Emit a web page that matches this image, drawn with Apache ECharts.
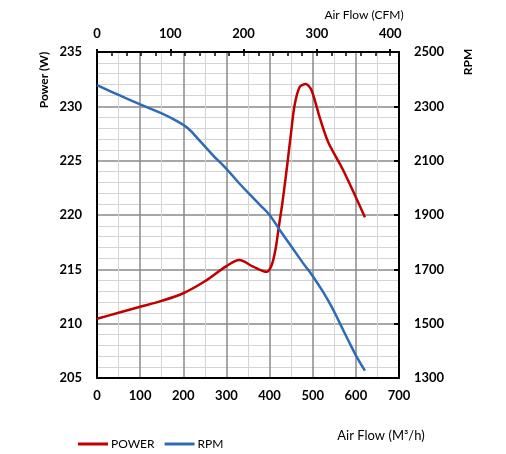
<!DOCTYPE html>
<html><head><meta charset="utf-8">
<script src="https://cdn.jsdelivr.net/npm/echarts@6/dist/echarts.min.js"></script>
<style>html,body{margin:0;padding:0;background:#fff}#c{width:506px;height:454px}</style>
</head><body><div id="c"></div>
<script>
// Data
const powerFlow = [0, 50, 100, 150, 200, 250, 300, 330, 362, 393, 405, 414, 421, 430, 440, 449, 458, 470, 484, 497, 516, 536, 571, 621];
const powerW    = [210.45, 211.0, 211.55, 212.1, 212.8, 213.9, 215.3, 215.85, 215.25, 214.77, 215.4, 216.9, 218.8, 221.2, 224.3, 227.3, 230.1, 231.8, 232.05, 231.5, 229.0, 226.7, 224.1, 219.8];
const rpmFlow   = [0, 50, 100, 150, 180, 210, 240, 270, 300, 330, 377, 400, 424, 451, 478, 501, 524, 544, 563, 582, 602, 621];
const rpmValues = [2378, 2342, 2307, 2274, 2250, 2220, 2170, 2118, 2070, 2016, 1938, 1900, 1844, 1783, 1722, 1673, 1617, 1562, 1501, 1440, 1378, 1327];
const seriesNames = ['POWER', 'RPM'];
const flowMax = 700;          // m3/h
const cfmMax = 700 / 1.699;   // same span in CFM

const F = 'Lato, "Open Sans", sans-serif';
const pair = (xs, ys) => xs.map((x, i) => [x, ys[i]]);
const chart = echarts.init(document.getElementById('c'), null, {renderer: 'canvas'});
const lblStyle = {color: '#000', fontFamily: F, fontWeight: 'bold', fontSize: 13, formatter: v => String(v)};
const hiddenMinorTick = n => ({show: true, splitNumber: n, length: 0, lineStyle: {width: 0, color: 'rgba(0,0,0,0)'}});
chart.setOption({
  animation: false,
  backgroundColor: '#fff',
  grid: {left: 97, right: 107, top: 52, bottom: 76, containLabel: false},
  legend: {
    left: 73, top: 433, itemWidth: 30, itemHeight: 3, itemGap: 10,
    data: seriesNames.map(n => ({name: n, icon: 'rect'})),
    textStyle: {color: '#000', fontFamily: F, fontSize: 12, padding: [0, 0, 0, -2]}
  },
  xAxis: [
    {type: 'value', position: 'bottom', min: 0, max: flowMax, interval: 100,
      axisLine: {show: true, onZero: false, lineStyle: {color: '#000', width: 2}},
      axisTick: {show: false},
      axisLabel: Object.assign({margin: 11}, lblStyle),
      splitLine: {show: true, lineStyle: {color: '#8a8a8a', width: 1.5}},
      minorTick: hiddenMinorTick(2),
      minorSplitLine: {show: true, lineStyle: {color: '#d4d4d4', width: 1}}
    },
    {type: 'value', position: 'top', min: 0, max: cfmMax, interval: 100,
      axisLine: {show: true, onZero: false, lineStyle: {color: '#000', width: 2}},
      axisTick: {show: true, inside: false, length: 3, lineStyle: {color: '#000', width: 2}},
      axisLabel: Object.assign({margin: 12, showMaxLabel: false}, lblStyle),
      splitLine: {show: false}
    },
    {type: 'value', position: 'top', min: 0, max: cfmMax, interval: 20,
      axisLine: {show: false},
      axisTick: {show: true, inside: true, length: 4, lineStyle: {color: '#000', width: 1.5}},
      axisLabel: {show: false},
      splitLine: {show: false}
    }
  ],
  yAxis: [
    {type: 'value', position: 'left', min: 205, max: 235, interval: 5,
      axisLine: {show: true, onZero: false, lineStyle: {color: '#000', width: 2}},
      axisTick: {show: false},
      axisLabel: Object.assign({margin: 15}, lblStyle),
      splitLine: {show: true, lineStyle: {color: '#8a8a8a', width: 1.5}},
      minorTick: hiddenMinorTick(5),
      minorSplitLine: {show: true, lineStyle: {color: '#d4d4d4', width: 1}}
    },
    {type: 'value', position: 'right', min: 1300, max: 2500, interval: 200,
      axisLine: {show: true, onZero: false, lineStyle: {color: '#000', width: 2}},
      axisTick: {show: true, inside: true, length: 5, lineStyle: {color: '#000', width: 2}},
      axisLabel: Object.assign({margin: 15}, lblStyle),
      splitLine: {show: false}
    }
  ],
  graphic: [
    {type: 'text', x: 44, y: 80, rotation: Math.PI / 2,
      style: {text: 'Power (W)', fill: '#000', font: 'bold 12px ' + F, textAlign: 'center', textVerticalAlign: 'middle'}},
    {type: 'text', x: 468, y: 62, rotation: Math.PI / 2,
      style: {text: 'RPM', fill: '#000', font: 'bold 12px ' + F, textAlign: 'center', textVerticalAlign: 'middle'}},
    {type: 'text', x: 364, y: 15,
      style: {text: 'Air Flow (CFM)', fill: '#000', font: '12px ' + F, textAlign: 'center', textVerticalAlign: 'middle'}},
    {type: 'text', x: 381, y: 436,
      style: {text: 'Air Flow (M³/h)', fill: '#000', font: '13px ' + F, textAlign: 'center', textVerticalAlign: 'middle'}}
  ],
  series: [
    {name: seriesNames[0], type: 'line', xAxisIndex: 0, yAxisIndex: 0,
      data: pair(powerFlow, powerW), smooth: 0.3, showSymbol: false,
      itemStyle: {color: '#C00000'}, lineStyle: {color: '#C00000', width: 2.5}},
    {name: seriesNames[1], type: 'line', xAxisIndex: 0, yAxisIndex: 1,
      data: pair(rpmFlow, rpmValues), smooth: 0.4, showSymbol: false,
      itemStyle: {color: '#2E6BB5'}, lineStyle: {color: '#2E6BB5', width: 2.5}}
  ]
});
</script></body></html>
